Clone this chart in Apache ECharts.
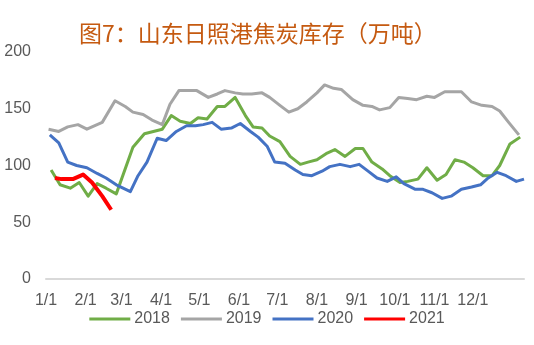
<!DOCTYPE html>
<html>
<head>
<meta charset="utf-8">
<script src="https://cdn.jsdelivr.net/npm/echarts@6/dist/echarts.min.js"></script>
<style>
  html, body { margin: 0; padding: 0; background: #fff; }
  #chart { width: 534px; height: 345px; }
</style>
</head>
<body>
<div id="chart"></div>
<script>
// Weekly coke inventory at Rizhao port, Shandong (10k tonnes).
// x values are day-of-year offsets from Jan 1.
const monthTicks = [0, 31, 59, 90, 120, 151, 181, 212, 243, 273, 304, 334];
const monthLabels = ['1/1', '2/1', '3/1', '4/1', '5/1', '6/1', '7/1', '8/1', '9/1', '10/1', '11/1', '12/1'];
const yTicks = [0, 50, 100, 150, 200];

const days2018 = [4, 11, 19, 26, 33, 40, 47, 55, 68, 77, 84, 91, 98, 105, 113, 119, 126, 134, 140, 148,
  156, 162, 169, 175, 183, 191, 199, 205, 212, 220, 226, 234, 242, 248, 255, 263, 269, 277, 283, 291,
  298, 306, 313, 320, 327, 334, 342, 349, 355, 363, 371];
const vals2018 = [96, 83, 80, 85, 73, 84, 80, 75, 116, 128, 130, 132, 144, 139, 137, 142, 141, 152, 152, 160,
  144, 134, 133, 126, 121, 108, 101, 103, 105, 111, 114, 108, 115, 115, 103, 97, 91, 85, 86, 88,
  98, 87, 92, 105, 103, 98, 91, 91, 100, 119, 125];

const days2019 = [2, 10, 17, 25, 32, 44, 54, 62, 68, 76, 83, 91, 97, 104, 111, 118, 127, 134, 140, 148,
  154, 161, 169, 175, 183, 190, 197, 204, 212, 218, 225, 231, 240, 248, 255, 261, 269, 276, 283, 290,
  298, 304, 312, 319, 325, 333, 341, 349, 355, 362, 370];
const vals2019 = [132, 130, 134, 136, 132, 138, 157, 152, 147, 145, 140, 136, 154, 166, 166, 166, 160, 163, 166, 164,
  163, 163, 164, 160, 153, 147, 150, 156, 164, 171, 168, 167, 158, 153, 152, 149, 151, 160, 159, 158,
  161, 160, 165, 165, 165, 156, 153, 152, 148, 138, 127];

const days2020 = [3, 10, 17, 24, 32, 40, 47, 55, 66, 72, 79, 87, 94, 102, 110, 117, 123, 130, 137, 145,
  152, 160, 166, 173, 179, 187, 195, 201, 208, 216, 222, 230, 238, 245, 252, 259, 267, 274, 280, 289,
  295, 302, 310, 317, 325, 333, 340, 346, 353, 360, 368, 374];
const vals2020 = [127, 120, 103, 100, 98, 93, 89, 83, 77, 91, 103, 124, 122, 130, 135, 135, 136, 138, 132, 133,
  137, 130, 125, 117, 103, 102, 96, 92, 91, 95, 99, 101, 99, 101, 95, 89, 86, 90, 84, 79,
  79, 76, 71, 73, 79, 81, 83, 89, 94, 91, 86, 88];

const days2021 = [7, 12, 21, 29, 36, 44, 51];
const vals2021 = [89, 88, 88, 92, 85, 73, 61];

const zip = (xs, ys) => xs.map((x, i) => [x, ys[i]]);

const seriesDefs = [
  { name: '2018', days: days2018, vals: vals2018, color: '#70ad47', width: 3 },
  { name: '2019', days: days2019, vals: vals2019, color: '#a5a5a5', width: 3 },
  { name: '2020', days: days2020, vals: vals2020, color: '#4472c4', width: 3 },
  { name: '2021', days: days2021, vals: vals2021, color: '#ff0000', width: 4 }
];

const textFont = 'Liberation Sans';
const chart = echarts.init(document.getElementById('chart'), null, { renderer: 'canvas' });

chart.setOption({
  animation: false,
  backgroundColor: '#ffffff',
  title: {
    text: '图7：山东日照港焦炭库存（万吨）',
    left: 74,
    top: 17,
    textStyle: {
      fontFamily: 'Noto Sans CJK SC',
      fontSize: 23,
      fontWeight: 'normal',
      color: '#c55a11'
    }
  },
  legend: {
    bottom: 13,
    left: 'center',
    itemWidth: 41,
    itemHeight: 3,
    itemGap: 11,
    icon: 'rect',
    textStyle: { fontFamily: textFont, fontSize: 16, color: '#595959', padding: [0, 0, 0, -1] },
    data: seriesDefs.map(s => s.name)
  },
  grid: { left: 46, right: 10, top: 52, bottom: 66 },
  xAxis: {
    type: 'value',
    min: 0,
    max: 374,
    splitLine: { show: false },
    axisLine: { show: true, lineStyle: { color: '#d9d9d9', width: 2 } },
    axisTick: { show: false },
    axisLabel: {
      customValues: monthTicks,
      formatter: v => monthLabels[monthTicks.indexOf(v)],
      margin: 14,
      fontFamily: textFont,
      fontSize: 16,
      color: '#595959'
    }
  },
  yAxis: {
    type: 'value',
    min: 0,
    max: 200,
    interval: 50,
    splitLine: { show: false },
    axisLine: { show: false },
    axisTick: { show: false },
    axisLabel: {
      customValues: yTicks,
      margin: 15,
      fontFamily: textFont,
      fontSize: 16,
      color: '#595959'
    }
  },
  series: seriesDefs.map(s => ({
    name: s.name,
    type: 'line',
    data: zip(s.days, s.vals),
    showSymbol: false,
    symbol: 'none',
    lineStyle: { color: s.color, width: s.width, join: 'round' },
    itemStyle: { color: s.color },
    z: s.name === '2021' ? 5 : 2
  }))
});
</script>
</body>
</html>
